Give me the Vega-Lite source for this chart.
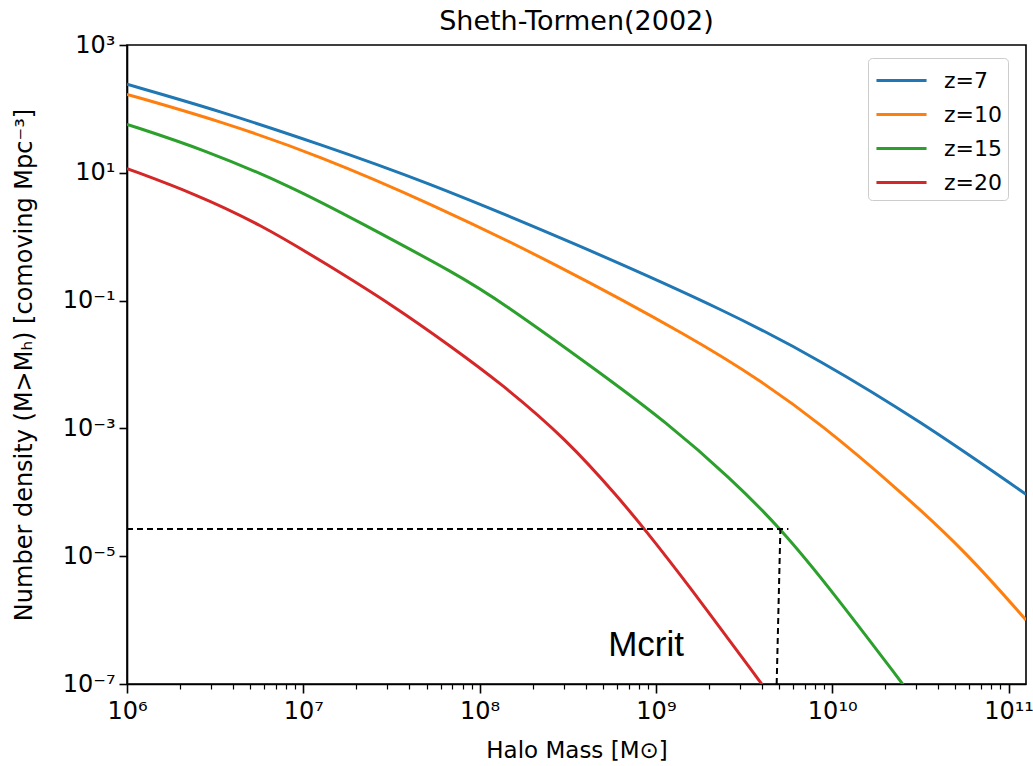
{
  "$schema": "https://vega.github.io/schema/vega-lite/v6.json",
  "width": 899,
  "height": 639,
  "autosize": {"type": "none"},
  "padding": {"left": 127, "top": 45, "right": 7, "bottom": 82},
  "background": "white",
  "title": {"text": "Sheth-Tormen(2002)", "fontSize": 27, "font": "DejaVu Sans", "fontWeight": "normal", "color": "#000", "offset": -3, "anchor": "middle"},
  "config": {
    "view": {"stroke": "#000", "strokeWidth": 1.6},
    "axis": {
      "labelFont": "DejaVu Sans", "labelFontSize": 24, "labelColor": "#000",
      "titleFont": "DejaVu Sans", "titleFontSize": 23, "titleFontWeight": "normal", "titleColor": "#000",
      "domainColor": "#000", "domainWidth": 1.6, "tickColor": "#000", "tickWidth": 1.6, "grid": false,
      "labelFlush": false, "labelOverlap": false
    }
  },
  "datasets": {
    "curves": [
      {"z": "z=7", "m": 1e6, "n": 242.7},
      {"z": "z=7", "m": 3.365e6, "n": 92.7},
      {"z": "z=7", "m": 1.245e7, "n": 27.9},
      {"z": "z=7", "m": 4.592e7, "n": 7.91},
      {"z": "z=7", "m": 3.475e8, "n": 0.789},
      {"z": "z=7", "m": 2.63e9, "n": 0.0649},
      {"z": "z=7", "m": 8.531e9, "n": 0.01164},
      {"z": "z=7", "m": 3.148e10, "n": 0.001306},
      {"z": "z=7", "m": 1.256e11, "n": 0.0000931},
      {"z": "z=10", "m": 1e6, "n": 169.0},
      {"z": "z=10", "m": 3.365e6, "n": 64.7},
      {"z": "z=10", "m": 1.245e7, "n": 18.3},
      {"z": "z=10", "m": 5.236e7, "n": 3.33},
      {"z": "z=10", "m": 2.618e8, "n": 0.394},
      {"z": "z=10", "m": 1.702e9, "n": 0.0239},
      {"z": "z=10", "m": 3.89e9, "n": 0.00566},
      {"z": "z=10", "m": 8.531e9, "n": 0.001202},
      {"z": "z=10", "m": 2.427e10, "n": 0.0001047},
      {"z": "z=10", "m": 5.794e10, "n": 0.00001138},
      {"z": "z=10", "m": 1.256e11, "n": 0.000001},
      {"z": "z=15", "m": 1e6, "n": 57.4},
      {"z": "z=15", "m": 2.723e6, "n": 23.3},
      {"z": "z=15", "m": 8.83e6, "n": 5.86},
      {"z": "z=15", "m": 2.104e7, "n": 1.663},
      {"z": "z=15", "m": 7.447e7, "n": 0.258},
      {"z": "z=15", "m": 1.306e8, "n": 0.0986},
      {"z": "z=15", "m": 4.819e8, "n": 0.00746},
      {"z": "z=15", "m": 1.151e9, "n": 0.001233},
      {"z": "z=15", "m": 2.63e9, "n": 0.0001698},
      {"z": "z=15", "m": 5.164e9, "n": 0.00002636},
      {"z": "z=15", "m": 1.014e10, "n": 0.00000269},
      {"z": "z=15", "m": 2.477e10, "n": 1.05e-7},
      {"z": "z=15", "m": 2.754e10, "n": 7.08e-8},
      {"z": "z=20", "m": 1e6, "n": 11.64},
      {"z": "z=20", "m": 2.388e6, "n": 4.78},
      {"z": "z=20", "m": 5.702e6, "n": 1.563},
      {"z": "z=20", "m": 1.361e7, "n": 0.37},
      {"z": "z=20", "m": 3.258e7, "n": 0.0822},
      {"z": "z=20", "m": 6.823e7, "n": 0.01945},
      {"z": "z=20", "m": 1.306e8, "n": 0.00521},
      {"z": "z=20", "m": 3.119e8, "n": 0.000675},
      {"z": "z=20", "m": 6.252e8, "n": 0.0000776},
      {"z": "z=20", "m": 8.492e8, "n": 0.000028},
      {"z": "z=20", "m": 1.496e9, "n": 0.00000386},
      {"z": "z=20", "m": 3.981e9, "n": 1e-7},
      {"z": "z=20", "m": 4.365e9, "n": 7.08e-8}
    ],
    "guides": [
      {"seg": "h", "m": 1e6, "n": 0.00002667},
      {"seg": "h", "m": 5.64e9, "n": 0.00002667},
      {"seg": "v", "m": 5.08e9, "n": 0.00002667},
      {"seg": "v", "m": 4.84e9, "n": 1e-7}
    ],
    "notes": [
      {"label": "Mcrit", "m": 8.79e8, "n": 2.74e-7}
    ]
  },
  "resolve": {"axis": {"x": "independent"}},
  "layer": [
    {
      "data": {"name": "curves"},
      "mark": {"type": "line", "interpolate": "basis", "strokeWidth": 3, "clip": true},
      "encoding": {
        "x": {
          "field": "m", "type": "quantitative",
          "scale": {"type": "log", "domain": [1e6, 1.256e11], "nice": false},
          "axis": {
            "orient": "bottom",
            "title": "Halo Mass [M⊙]",
            "values": [1e6, 1e7, 1e8, 1e9, 1e10, 1e11],
            "labelExpr": "datum.value < 5e6 ? '10⁶' : datum.value < 5e7 ? '10⁷' : datum.value < 5e8 ? '10⁸' : datum.value < 5e9 ? '10⁹' : datum.value < 5e10 ? '10¹⁰' : '10¹¹'",
            "tickSize": 9, "labelPadding": 6, "titlePadding": 16
          }
        },
        "y": {
          "field": "n", "type": "quantitative",
          "scale": {"type": "log", "domain": [1e-7, 1000], "nice": false},
          "axis": {
            "title": "Number density (M>Mₕ) [comoving Mpc⁻³]",
            "titleFontSize": 24,
            "values": [1000, 10, 0.1, 0.001, 0.00001, 1e-7],
            "labelExpr": "datum.value > 100 ? '10³' : datum.value > 1 ? '10¹' : datum.value > 0.01 ? '10⁻¹' : datum.value > 0.0001 ? '10⁻³' : datum.value > 0.000001 ? '10⁻⁵' : '10⁻⁷'",
            "tickSize": 8, "labelPadding": 4, "titlePadding": 26
          }
        },
        "color": {
          "field": "z", "type": "nominal",
          "scale": {"domain": ["z=7", "z=10", "z=15", "z=20"], "range": ["#1f77b4", "#ff7f0e", "#2ca02c", "#d62728"]},
          "legend": {
            "title": null, "orient": "none", "legendX": 741, "legendY": 13,
            "strokeColor": "#cccccc", "fillColor": "#ffffff", "padding": 6, "cornerRadius": 4,
            "symbolType": "M-1.67,0H1.67", "symbolSize": 900, "symbolStrokeWidth": 3, "symbolOffset": 11,
            "labelFontSize": 22, "labelFont": "DejaVu Sans", "labelColor": "#000",
            "labelOffset": 26, "rowPadding": 6
          }
        }
      }
    },
    {
      "data": {"name": "guides"},
      "mark": {"type": "line", "color": "#000", "strokeWidth": 2, "strokeDash": [6, 4], "clip": true},
      "encoding": {
        "x": {
          "field": "m", "type": "quantitative",
          "axis": {
            "orient": "bottom", "title": null, "labels": false, "domain": false,
            "values": [2e6, 3e6, 4e6, 5e6, 6e6, 7e6, 8e6, 9e6, 2e7, 3e7, 4e7, 5e7, 6e7, 7e7, 8e7, 9e7, 2e8, 3e8, 4e8, 5e8, 6e8, 7e8, 8e8, 9e8, 2e9, 3e9, 4e9, 5e9, 6e9, 7e9, 8e9, 9e9, 2e10, 3e10, 4e10, 5e10, 6e10, 7e10, 8e10, 9e10],
            "tickSize": 5, "tickWidth": 1.2
          }
        },
        "y": {"field": "n", "type": "quantitative"},
        "detail": {"field": "seg", "type": "nominal"}
      }
    },
    {
      "data": {"name": "notes"},
      "mark": {"type": "text", "font": "Liberation Sans", "fontSize": 35, "align": "center", "baseline": "alphabetic", "color": "#000"},
      "encoding": {
        "x": {"field": "m", "type": "quantitative", "axis": null},
        "y": {"field": "n", "type": "quantitative"},
        "text": {"field": "label", "type": "nominal"}
      }
    }
  ]
}
